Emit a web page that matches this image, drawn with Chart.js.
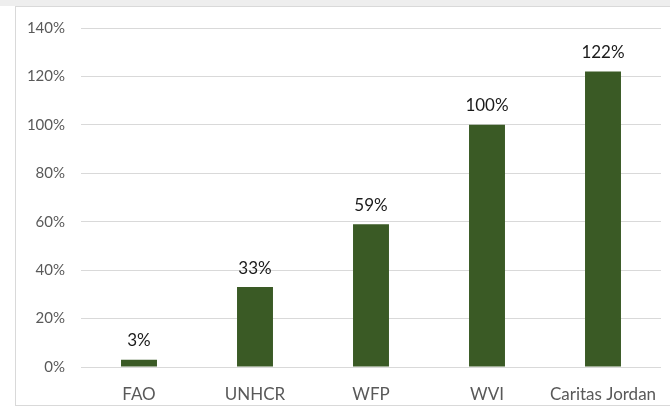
<!DOCTYPE html>
<html><head><meta charset="utf-8">
<script src="https://cdn.jsdelivr.net/npm/chart.js@4/dist/chart.umd.min.js"></script>
<style>
html,body{margin:0;padding:0;background:#fff;width:670px;height:411px;overflow:hidden}
#top{position:absolute;left:0;top:0;width:670px;height:6px;background:#eeeeee}
#box{position:absolute;left:15px;top:6px;width:660px;height:400px;border:1px solid #d9d9d9;background:#fff;box-sizing:border-box}
#wrap{position:absolute;left:16px;top:3px;width:654px;height:402px}
</style></head><body>
<div id="top"></div><div id="box"></div>
<div id="wrap"><canvas id="c"></canvas></div>
<script>
const categories = ["FAO","UNHCR","WFP","WVI","Caritas Jordan"];
const values = [3,33,59,100,122];
const yTicks = [0,20,40,60,80,100,120,140];

const labelPlugin = {
  id:'labels',
  afterDatasetsDraw(chart){
    const ctx = chart.ctx;
    const meta = chart.getDatasetMeta(0);
    ctx.save();
    ctx.font = '17px Lato, "Open Sans", sans-serif';
    ctx.fillStyle = '#1a1a1a';
    ctx.textAlign = 'center';
    ctx.textBaseline = 'middle';
    meta.data.forEach((bar,i)=>{
      ctx.fillText(values[i]+'%', bar.x, bar.y-19);
    });
    ctx.restore();
  }
};

new Chart(document.getElementById('c'),{
  type:'bar',
  data:{labels:categories,datasets:[{data:values,backgroundColor:'#3a5a25',borderWidth:0,categoryPercentage:1,barPercentage:0.31}]},
  options:{
    responsive:true,maintainAspectRatio:false,animation:false,
    layout:{padding:{top:14,right:9,left:0,bottom:0}},
    plugins:{legend:{display:false},tooltip:{enabled:false}},
    scales:{
      x:{grid:{display:false},border:{display:false},
         ticks:{color:'#595959',font:{family:'Lato, "Open Sans", sans-serif',size:17},padding:9,maxRotation:0},
         afterFit(s){s.height=38;}},
      y:{min:0,max:140,afterBuildTicks(s){s.ticks=yTicks.map(v=>({value:v}));},
         grid:{color:'#d9d9d9',lineWidth:1,drawTicks:false},border:{display:false},
         ticks:{color:'#595959',font:{family:'Lato, "Open Sans", sans-serif',size:15},padding:16,callback:v=>v+'%'},
         afterFit(s){s.width=65;}}
    }
  },
  plugins:[labelPlugin]
});
</script>
</body></html>
